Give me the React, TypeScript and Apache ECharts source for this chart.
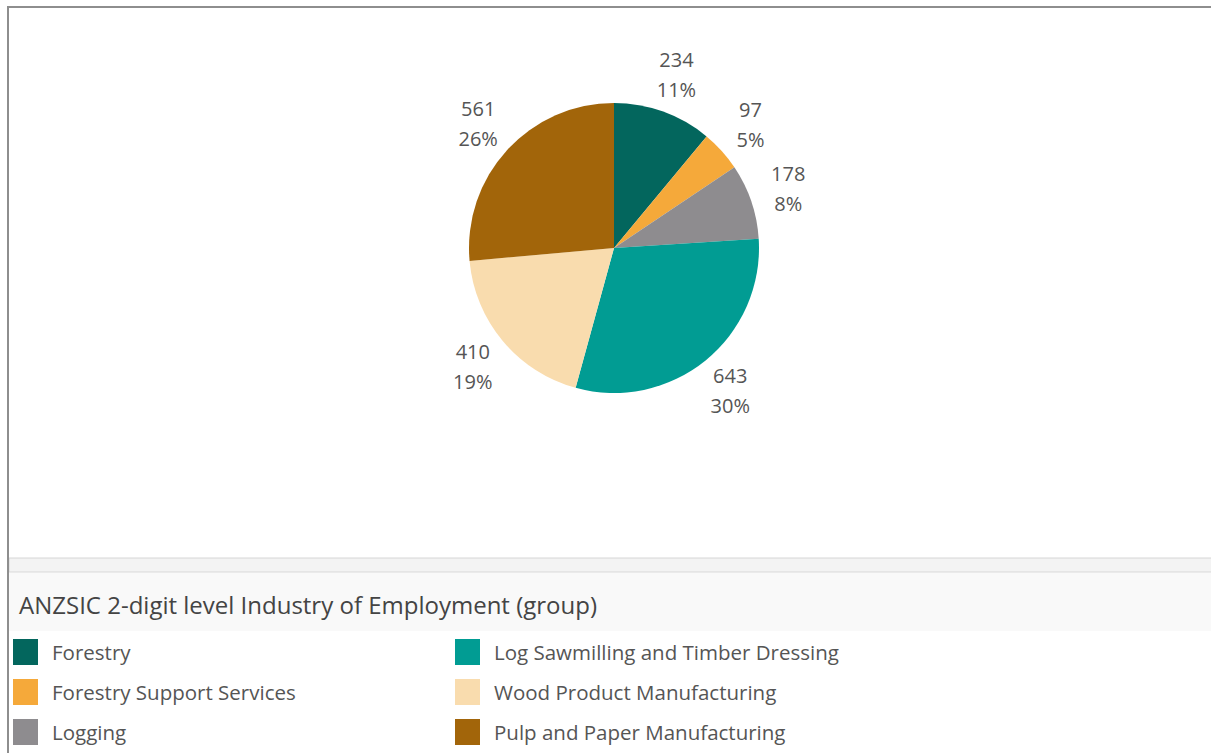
import React, { useEffect, useRef } from "react";
import * as echarts from "echarts";

const categories = [
  "Forestry",
  "Forestry Support Services",
  "Logging",
  "Log Sawmilling and Timber Dressing",
  "Wood Product Manufacturing",
  "Pulp and Paper Manufacturing",
];
const values = [234, 97, 178, 643, 410, 561];
const colors = ["#03665d", "#f5a93a", "#8e8c8f", "#019c93", "#f9dcae", "#a2650a"];
const legendCol1 = ["Forestry", "Forestry Support Services", "Logging"];
const legendCol2 = [
  "Log Sawmilling and Timber Dressing",
  "Wood Product Manufacturing",
  "Pulp and Paper Manufacturing",
];
const legendTitle = "ANZSIC 2-digit level Industry of Employment (group)";

const FONT = "Open Sans";

export default function App() {
  const ref = useRef<HTMLDivElement>(null);
  useEffect(() => {
    if (!ref.current) return;
    const chart = echarts.init(ref.current, null, { renderer: "svg" });
    const total = values.reduce((a, b) => a + b, 0);
    const data = categories.map((c, i) => ({
      name: c,
      value: values[i],
      itemStyle: { color: colors[i] },
    }));
    const legendBase = {
      orient: "vertical",
      icon: "rect",
      itemWidth: 25,
      itemHeight: 26,
      itemGap: 14,
      padding: 0,
      height: 120,
      selectedMode: false,
      textStyle: {
        fontFamily: FONT,
        fontSize: 20.5,
        color: "#555555",
        padding: [0, 0, 0, 9],
      },
    };
    chart.setOption({
      animation: false,
      backgroundColor: "#ffffff",
      textStyle: { fontFamily: FONT },
      title: {
        text: legendTitle,
        left: 14,
        top: 587,
        textStyle: {
          fontFamily: FONT,
          fontSize: 24,
          fontWeight: "normal",
          color: "#444444",
        },
      },
      legend: [
        { ...legendBase, data: legendCol1, left: 13, top: 639 },
        { ...legendBase, data: legendCol2, left: 455, top: 639 },
      ],
      graphic: [
        {
          type: "line",
          shape: { x1: 8, y1: 7, x2: 1211, y2: 7 },
          style: { stroke: "#8e8e8e", lineWidth: 2 },
          z: 10,
        },
        {
          type: "line",
          shape: { x1: 8, y1: 6, x2: 8, y2: 753 },
          style: { stroke: "#8e8e8e", lineWidth: 2 },
          z: 10,
        },
        {
          type: "rect",
          shape: { x: 9, y: 558, width: 1210, height: 14 },
          style: { fill: "#f3f3f3", stroke: "#d6d6d6", lineWidth: 1 },
          z: -10,
        },
        {
          type: "rect",
          shape: { x: 9, y: 573, width: 1210, height: 58 },
          style: { fill: "#f9f9f9" },
          z: -10,
        },
      ],
      series: [
        {
          type: "pie",
          center: [614, 248],
          radius: [0, 145],
          startAngle: 90,
          clockwise: true,
          data,
          label: { show: false },
          labelLine: { show: false },
          emphasis: { disabled: true },
        },
        {
          type: "pie",
          center: [614, 248],
          radius: [145, 217],
          startAngle: 90,
          clockwise: true,
          silent: true,
          data: categories.map((c, i) => ({
            name: c,
            value: values[i],
            itemStyle: { color: "rgba(0,0,0,0)" },
          })),
          label: {
            show: true,
            position: "inside",
            fontFamily: FONT,
            fontSize: 20,
            lineHeight: 30,
            color: "#555555",
            formatter: (p: any) =>
              `${p.value}\n${Math.round((p.value / total) * 100)}%`,
          },
          labelLine: { show: false },
          emphasis: { disabled: true },
        },
      ],
    });
    return () => chart.dispose();
  }, []);
  return (
    <div
      ref={ref}
      style={{ position: "fixed", left: 0, top: 0, width: 1211, height: 753 }}
    />
  );
}
